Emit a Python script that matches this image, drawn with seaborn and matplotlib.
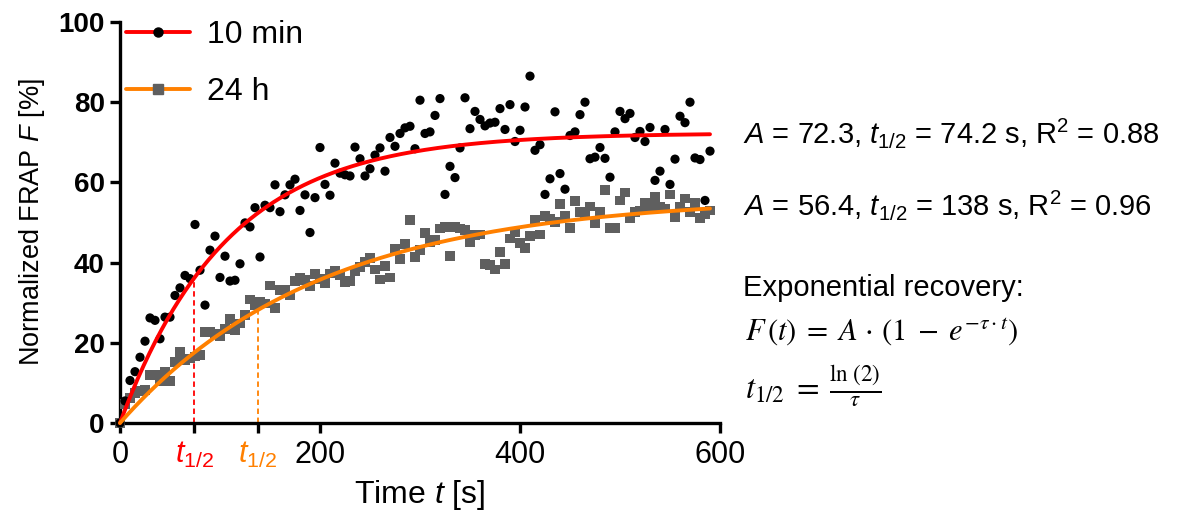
import numpy as np
import pandas as pd
import matplotlib
matplotlib.use("Agg")
import matplotlib.pyplot as plt
from matplotlib.lines import Line2D
import seaborn as sns

# ---------------- data ----------------
time_s = [0, 5, 10, 15, 20, 25, 30, 35, 40, 45, 50, 55, 60, 65, 70, 75, 80, 85, 90, 95,
          100, 105, 110, 115, 120, 125, 130, 135, 140, 145, 150, 155, 160, 165, 170, 175, 180, 185, 190, 195,
          200, 205, 210, 215, 220, 225, 230, 235, 240, 245, 250, 255, 260, 265, 270, 275, 280, 285, 290, 295,
          300, 305, 310, 315, 320, 325, 330, 335, 340, 345, 350, 355, 360, 365, 370, 375, 380, 385, 390, 395,
          400, 405, 410, 415, 420, 425, 430, 435, 440, 445, 450, 455, 460, 465, 470, 475, 480, 485, 490, 495,
          500, 505, 510, 515, 520, 525, 530, 535, 540, 545, 550, 555, 560, 565, 570, 575, 580, 585, 590]

frap_10min = [0.0, 5.5, 10.6, 12.8, 16.4, 20.4, 26.2, 25.6, 21.0, 26.4, 26.4, 31.8, 33.7, 36.8, 36.0, 49.5, 38.1, 29.4, 43.1, 46.6,
              36.3, 41.6, 35.4, 35.6, 39.7, 49.9, 48.9, 53.7, 41.4, 54.3, 53.7, 59.4, 52.7, 56.9, 59.4, 60.8, 53.0, 56.9, 47.5, 56.2,
              68.7, 59.5, 56.8, 64.8, 62.3, 61.9, 61.6, 68.8, 65.9, 61.6, 63.4, 66.8, 68.6, 62.8, 71.2, 69.0, 72.2, 73.6, 74.0, 68.4,
              80.5, 72.2, 72.6, 76.7, 80.9, 57.0, 64.0, 61.2, 68.6, 81.1, 73.4, 77.7, 75.7, 74.1, 74.8, 75.0, 78.4, 73.2, 79.4, 70.2,
              73.0, 78.8, 86.5, 68.0, 69.4, 57.0, 60.9, 77.6, 62.2, 58.3, 71.7, 72.6, 76.9, 80.0, 65.9, 66.3, 68.7, 66.0, 61.3, 72.6,
              77.7, 75.9, 77.2, 71.2, 72.7, 70.2, 73.7, 60.5, 62.8, 73.2, 59.5, 65.8, 76.5, 74.9, 80.0, 66.1, 65.7, 55.5, 67.8]

frap_24h = [0.0, 4.8, 6.3, 7.4, 7.9, 8.3, 11.9, 12.0, 10.4, 12.7, 10.4, 15.2, 17.7, 15.8, 16.1, 16.6, 17.0, 22.7, 22.7, 22.1,
            21.6, 23.5, 26.0, 23.1, 24.8, 26.9, 30.8, 29.4, 30.2, 29.8, 34.3, 28.7, 33.1, 33.1, 31.8, 35.4, 36.2, 35.6, 34.2, 37.2,
            36.0, 34.9, 37.3, 37.9, 36.8, 35.2, 35.4, 37.9, 38.9, 40.1, 41.2, 38.3, 35.8, 39.2, 36.3, 43.3, 41.0, 44.7, 50.7, 41.4,
            43.1, 47.4, 45.1, 45.7, 48.5, 48.9, 41.6, 48.9, 48.5, 48.1, 45.1, 46.8, 47.0, 39.7, 39.4, 38.3, 42.6, 39.7, 46.0, 47.5,
            44.9, 43.7, 46.6, 50.7, 47.0, 51.6, 51.0, 50.1, 54.7, 51.7, 48.6, 55.3, 52.6, 52.2, 54.0, 49.9, 52.6, 58.2, 48.6, 48.6,
            55.5, 57.5, 51.2, 52.6, 53.0, 54.9, 53.9, 56.4, 53.9, 53.5, 57.0, 51.4, 54.0, 56.0, 52.6, 54.9, 51.2, 52.0, 53.0]

series_labels = ["10 min", "24 h"]
fit_A = [72.3, 56.4]
fit_thalf = [74.2, 138.0]
fit_thalf_text = ["74.2", "138"]
fit_r2 = [0.88, 0.96]
x_ticks = [0, 200, 400, 600]
y_ticks = [0, 20, 40, 60, 80, 100]

# ---------------- style ----------------
sns.set_style("ticks")
plt.rcParams["font.family"] = ["Liberation Sans", "DejaVu Sans"]
plt.rcParams["mathtext.fontset"] = "custom"
plt.rcParams["mathtext.rm"] = "Liberation Sans"
plt.rcParams["mathtext.it"] = "Liberation Sans:italic"
plt.rcParams["mathtext.bf"] = "Liberation Sans:bold"
for k in ["text.color", "axes.labelcolor", "xtick.color", "ytick.color", "axes.edgecolor"]:
    plt.rcParams[k] = "black"

RED = "#FF0000"
ORANGE = "#FF8000"
GREY = "#5F5F5F"

W, H = 1178, 524
fig = plt.figure(figsize=(W / 100, H / 100), dpi=100)
ax = fig.add_axes([120 / W, (H - 423) / H, 600 / W, 401 / H])

df10 = pd.DataFrame({"t": time_s, "F": frap_10min})
df24 = pd.DataFrame({"t": time_s, "F": frap_24h})

sns.scatterplot(data=df24, x="t", y="F", ax=ax, marker="s", s=50, color=GREY,
                edgecolor="none", linewidth=0, clip_on=False, zorder=3)
sns.scatterplot(data=df10, x="t", y="F", ax=ax, marker="o", s=44, color="black",
                edgecolor="none", linewidth=0, clip_on=False, zorder=4)

# fitted exponential recovery curves from the reported parameters
t_fit = np.linspace(0, time_s[-1], 400)
for A, th, col in zip(fit_A, fit_thalf, [RED, ORANGE]):
    tau = np.log(2) / th
    sns.lineplot(x=t_fit, y=A * (1 - np.exp(-tau * t_fit)), ax=ax, color=col,
                 linewidth=2.8, zorder=5, clip_on=False)
    ax.plot([th, th], [0, A / 2], color=col, linestyle=(0, (3, 2)), linewidth=1.3, zorder=2)

ax.set_xlim(0, 600)
ax.set_ylim(0, 100)
sns.despine(ax=ax)
for sp in ["left", "bottom"]:
    ax.spines[sp].set_linewidth(2.4)
    ax.spines[sp].set_color("black")

xt = [x_ticks[0], fit_thalf[0], fit_thalf[1]] + x_ticks[1:]
xl = [str(x_ticks[0]), r"$\mathit{t}_{1/2}$", r"$\mathit{t}_{1/2}$"] + [str(v) for v in x_ticks[1:]]
ax.set_xticks(xt)
ax.set_xticklabels(xl, fontsize=22)
ax.get_xticklabels()[1].set_color(RED)
ax.get_xticklabels()[2].set_color(ORANGE)
ax.set_yticks(y_ticks)
ax.set_yticklabels([str(v) for v in y_ticks], fontsize=20, fontweight="bold")
ax.tick_params(axis="both", direction="out", width=2.4, length=7, color="black")
ax.tick_params(axis="x", pad=5)
ax.tick_params(axis="y", pad=4)

ax.set_xlabel(r"Time $\mathit{t}$ [s]", fontsize=23, labelpad=6)
ax.set_ylabel(r"Normalized FRAP $\mathit{F}$ [%]", fontsize=19.5, labelpad=8)

handles = [
    Line2D([0], [0], color=RED, lw=2.8, marker="o", markersize=6.5,
           markerfacecolor="black", markeredgecolor="black"),
    Line2D([0], [0], color=ORANGE, lw=2.8, marker="s", markersize=7,
           markerfacecolor=GREY, markeredgecolor=GREY),
]
ax.legend(handles, series_labels, loc="upper left", bbox_to_anchor=(0.01, 1.005),
          frameon=False, fontsize=23, handlelength=2.0, handletextpad=0.55,
          labelspacing=0.85, borderpad=0, borderaxespad=0)

def ftxt(x, y, s, **kw):
    fig.text(x / W, 1 - y / H, s, **kw)

for i, yb in enumerate([143, 215]):
    ftxt(743, yb, r"$\mathit{A}$ = %.1f, $\mathit{t}_{1/2}$ = %s s, R$^2$ = %.2f"
         % (fit_A[i], fit_thalf_text[i], fit_r2[i]),
         fontsize=21, va="baseline", ha="left")
ftxt(743, 296, "Exponential recovery:", fontsize=21, va="baseline", ha="left")
ftxt(745, 341, r"$F\,(t)\;=\;A\,\cdot\,(1\;-\;e^{-\tau\cdot t})$", fontsize=22, va="baseline",
     ha="left", math_fontfamily="stix")
ftxt(745, 399, r"$t_{1/2}\;=\;\frac{\ln\,(2)}{\tau}$", fontsize=23.5, va="baseline",
     ha="left", math_fontfamily="stix")

fig.savefig("out.png", dpi=100)
